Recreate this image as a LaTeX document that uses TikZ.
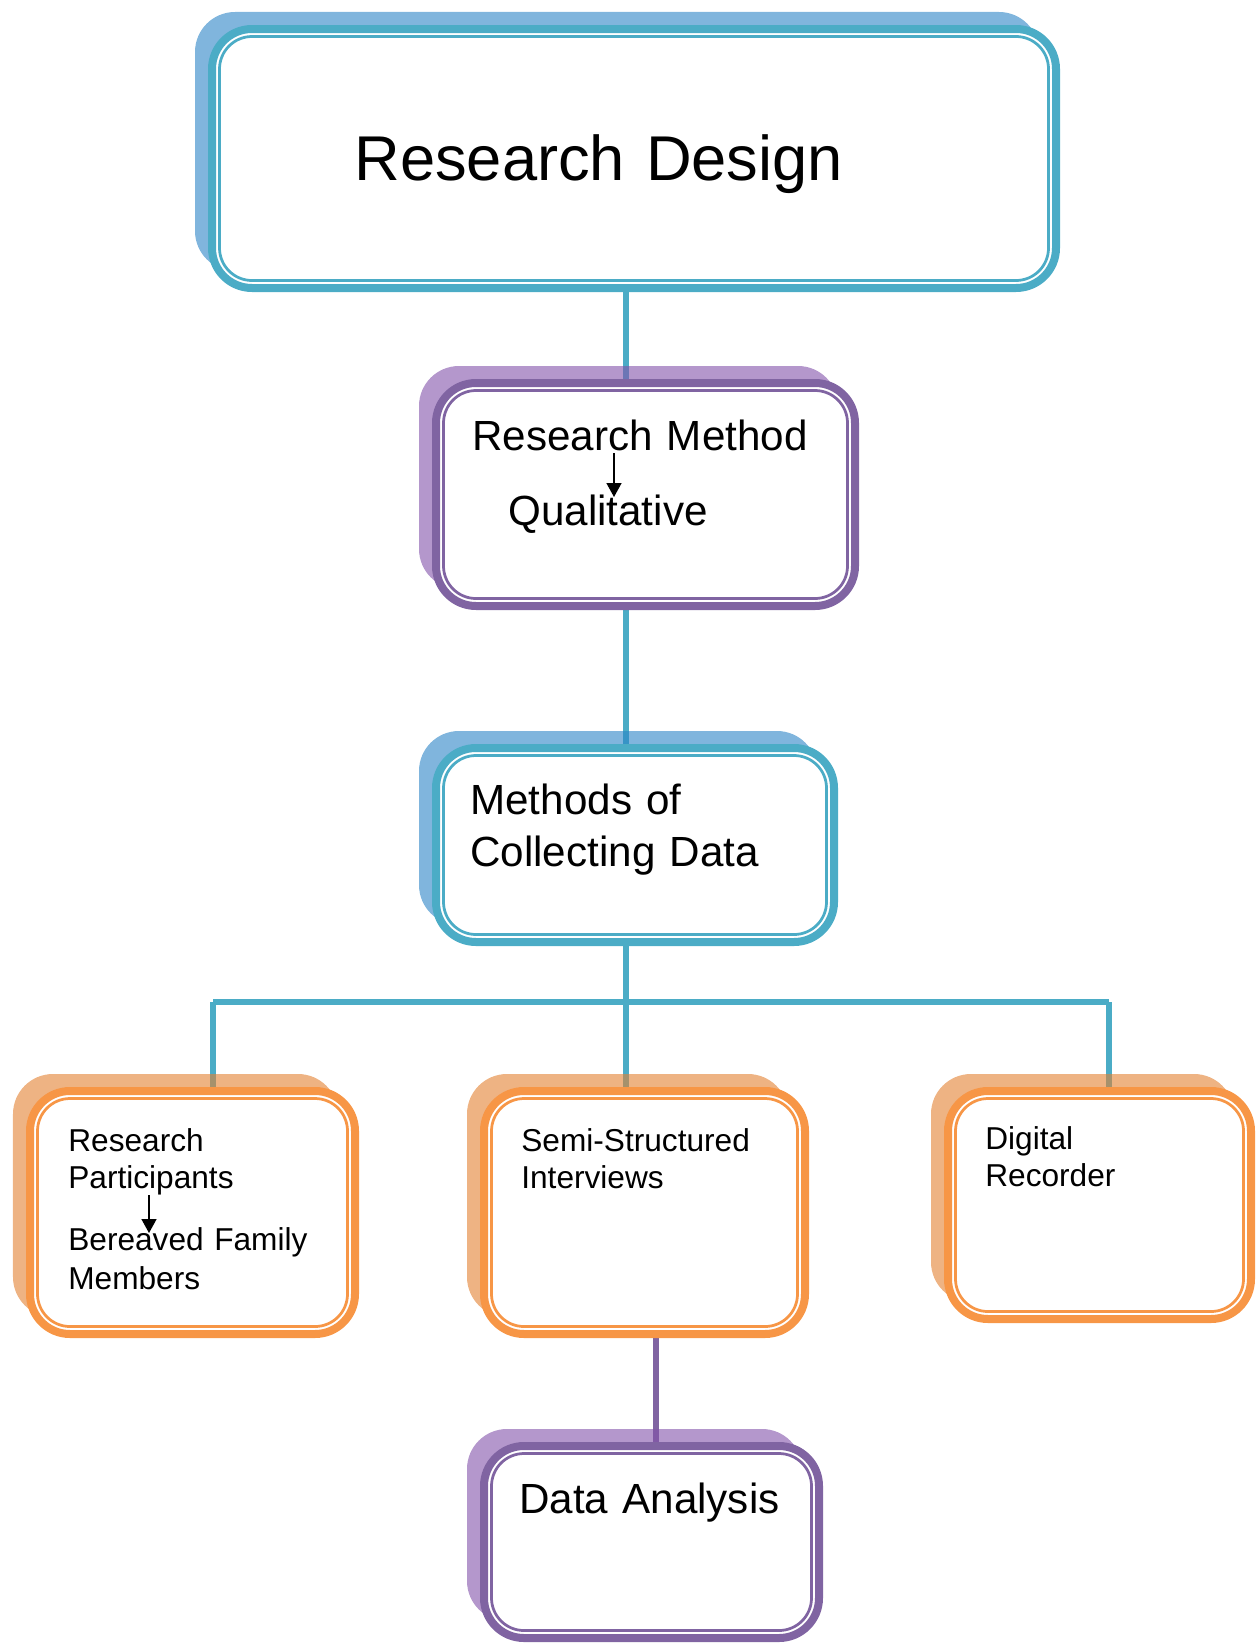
\documentclass[tikz,border=0pt]{standalone}
\usepackage{fontspec}
\setmainfont{Liberation Sans}
\usetikzlibrary{arrows.meta,backgrounds,shadows}
\definecolor{cyn}{HTML}{4BACC6}
\definecolor{prp}{HTML}{8064A2}
\definecolor{org}{HTML}{F79646}
\definecolor{cynsh}{HTML}{2B84C6}
\definecolor{prpsh}{HTML}{8252AA}
\definecolor{orgsh}{HTML}{E38030}
\tikzset{
  card/.style={fill=white,line width=1.6mm,rounded corners=8mm,
    general shadow={fill=#1,opacity=0.6,shadow xshift=-3.4mm,shadow yshift=3.4mm}},
  rim/.style={path picture={\draw[#1,line width=0.55mm,rounded corners=6.5mm]
      ([shift={(1.5mm,1.5mm)}]path picture bounding box.south west) rectangle
      ([shift={(-1.5mm,-1.5mm)}]path picture bounding box.north east);}},
  bcard/.style={card=cynsh,draw=cyn,rim=cyn},
  pcard/.style={card=prpsh,draw=prp,rim=prp},
  ocard/.style={card=orgsh,draw=org,rim=org},
  dims/.style 2 args={minimum width=#1*0.2mm,minimum height=#2*0.2mm},
  lbl/.style={inner sep=0pt,anchor=base west,align=left,text width=80mm,
    font=\fontsize{24}{30}\selectfont},
  slbl/.style={lbl,text width=60mm,font=\fontsize{18}{21.6}\selectfont},
  link/.style={draw=cyn,line width=1.25mm},
  plink/.style={link,draw=prp},
  tip/.style={-{Triangle[length=2.8mm,width=3mm]},line width=0.3mm},
}
\begin{document}
\begin{tikzpicture}[x=0.2mm,y=-0.2mm]
\useasboundingbox (0,0) rectangle (1258,1643);

% boxes
\node[bcard,dims={844}{259}] (design) at (634,158.5) {};
\node[pcard,dims={419}{223}] (method) at (645.5,494.5) {};
\node[bcard,dims={398}{194}] (collect) at (635,845) {};
\node[ocard,dims={325}{243}] (partic) at (192.5,1212.5) {};
\node[ocard,dims={321}{243}] (interv) at (644.5,1212.5) {};
\node[ocard,dims={303}{228}] (record) at (1099.5,1205) {};
\node[pcard,dims={335}{192}] (analysis) at (651.5,1542) {};

% texts
\node[lbl,text width=110mm,font=\fontsize{36}{43}\selectfont] (design-t) at (354,180) {Research Design};
\node[lbl] (method-t) at (472,450) {Research Method};
\node[lbl] (qual-t) at (508,525) {Qualitative};
\node[lbl] (collect-t) at (470,814) {Methods of\\Collecting Data};
\node[slbl] (partic-t) at (68,1151) {Research\\Participants};
\node[slbl,font=\fontsize{18}{22.7}\selectfont] (family-t) at (68,1250) {Bereaved Family\\Members};
\node[slbl] (interv-t) at (521,1151) {Semi-Structured\\Interviews};
\node[slbl] (record-t) at (985,1149) {Digital\\Recorder};
\node[lbl] (analysis-t) at (519,1513) {Data Analysis};

% small arrows inside the boxes
\coordinate (q-from) at (614,453);
\coordinate (q-to) at (614,497);
\coordinate (f-from) at (149,1195);
\coordinate (f-to) at (149,1233);
\draw[tip] (q-from) -- (q-to);
\draw[tip] (f-from) -- (f-to);

% connectors, behind the shadows
\coordinate (spine) at (626,0);
\coordinate (tail) at (656,0);
\coordinate (busL) at (213,1002);
\coordinate (busR) at (1109,1002);
\begin{scope}[on background layer]
\draw[link] (design.south -| spine) -- (method.north -| spine);
\draw[link] (method.south -| spine) -- (collect.north -| spine);
\draw[link] (collect.south -| spine) -- (interv.north -| spine);
\draw[link] (busL) -- (busR);
\draw[link] (busL) -- (busL |- partic.north);
\draw[link] (busR) -- (busR |- record.north);
\draw[plink] (interv.south -| tail) -- (analysis.north -| tail);
\end{scope}
\end{tikzpicture}
\end{document}
